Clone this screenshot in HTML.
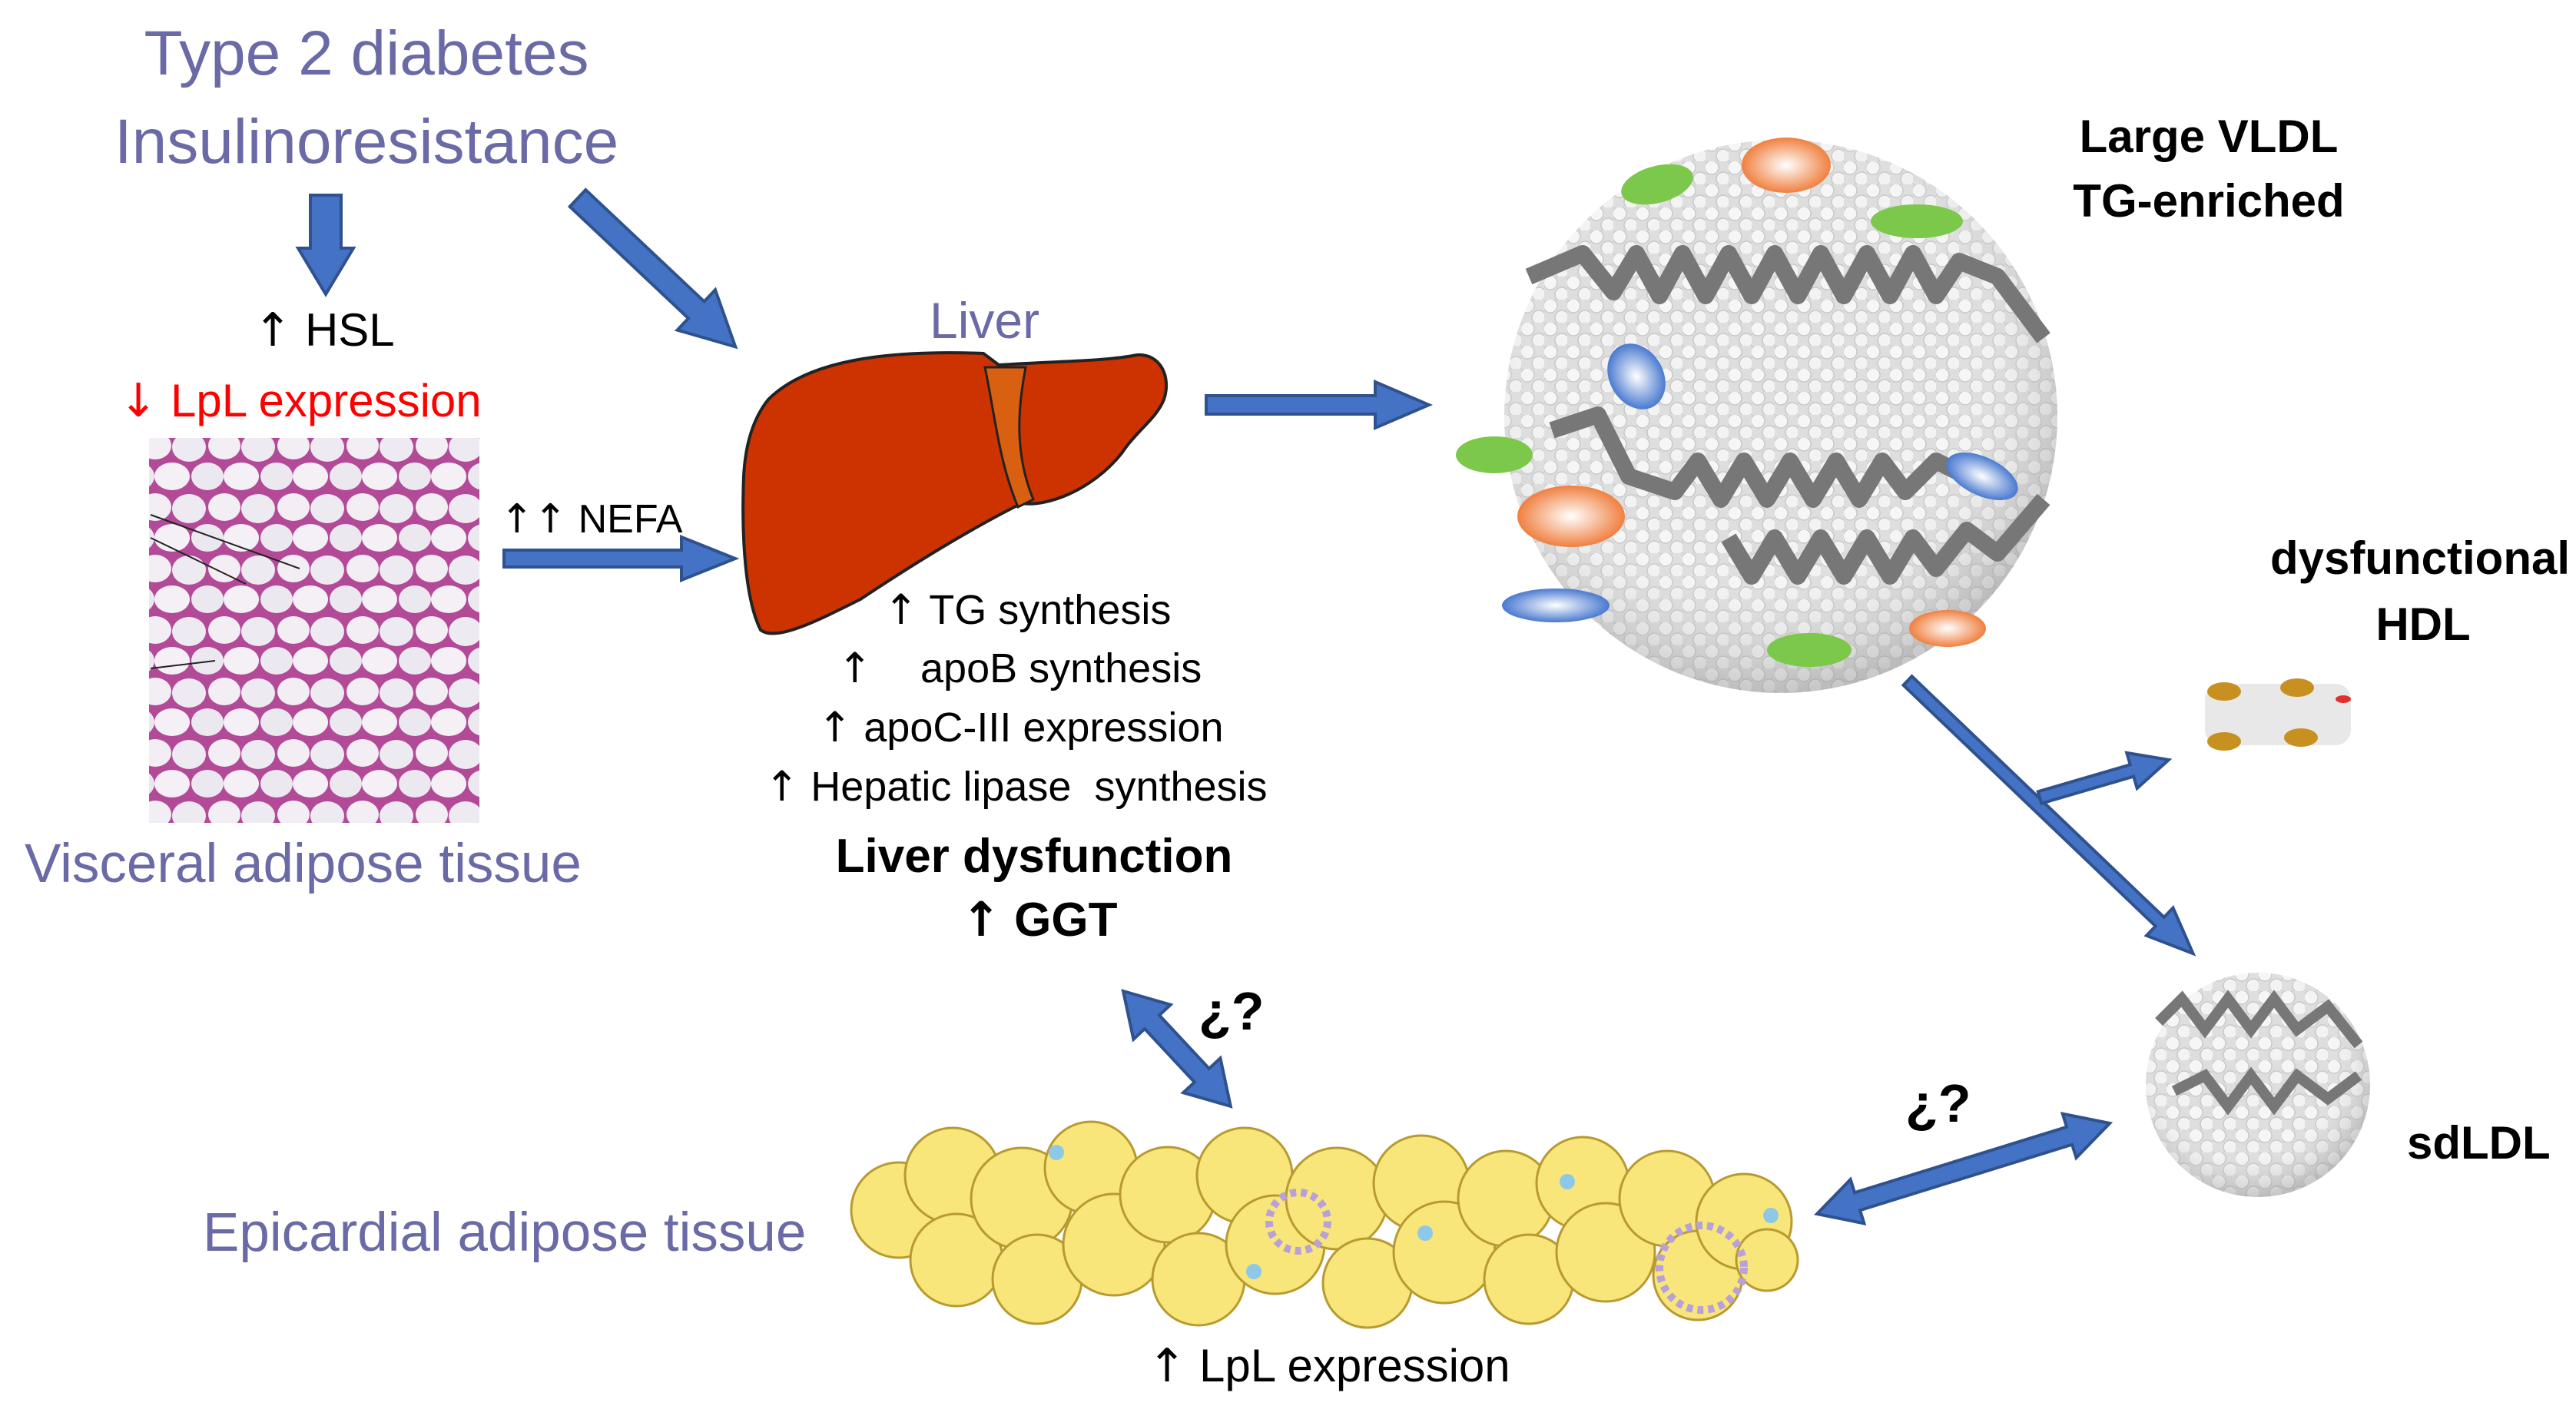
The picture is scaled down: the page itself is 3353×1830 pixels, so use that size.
<!DOCTYPE html>
<html><head><meta charset="utf-8"><style>
html,body{margin:0;padding:0;background:#fff;}
svg{display:block;}
text{font-family:"Liberation Sans",sans-serif;}
.ar{font-family:"DejaVu Sans",sans-serif;}
</style></head><body>
<svg width="3353" height="1830" viewBox="0 0 3353 1830" xmlns="http://www.w3.org/2000/svg">
<defs>
<pattern id="fat" width="90" height="80" patternUnits="userSpaceOnUse">
<rect width="90" height="80" fill="#b24a98"/>
<ellipse cx="22" cy="20" rx="21" ry="18" fill="#f2eef4"/>
<ellipse cx="66" cy="22" rx="22" ry="19" fill="#eeeaf2"/>
<ellipse cx="44" cy="60" rx="23" ry="18" fill="#f4f0f6"/>
<ellipse cx="0" cy="60" rx="21" ry="18" fill="#ece8f0"/>
<ellipse cx="90" cy="60" rx="21" ry="18" fill="#ece8f0"/>
</pattern>
<pattern id="dots" width="30" height="30" patternUnits="userSpaceOnUse">
<rect width="30" height="30" fill="#dedede"/>
<circle cx="8" cy="8" r="9" fill="#f6f6f6" stroke="#c8c8c8" stroke-width="1.5"/>
<circle cx="23" cy="23" r="9" fill="#f3f3f3" stroke="#c8c8c8" stroke-width="1.5"/>
</pattern>
<radialGradient id="shade" cx="45%" cy="40%" r="60%">
<stop offset="60%" stop-color="#fff" stop-opacity="0"/>
<stop offset="100%" stop-color="#888" stop-opacity="0.4"/>
</radialGradient>
<radialGradient id="org" cx="50%" cy="50%" r="50%"><stop offset="0" stop-color="#fff"/><stop offset="1" stop-color="#f08040"/></radialGradient>
<radialGradient id="blu" cx="50%" cy="50%" r="50%"><stop offset="0" stop-color="#fff"/><stop offset="1" stop-color="#4a7ad0"/></radialGradient>
</defs>

<text x="477" y="97" font-size="82" fill="#6a6aa6" text-anchor="middle">Type 2 diabetes</text>
<text x="477" y="212" font-size="82" fill="#6a6aa6" text-anchor="middle">Insulinoresistance</text>

<g fill="#4472c4" stroke="#2f528f" stroke-width="4">
<g transform="translate(424,254) rotate(90)"><polygon points="0,-20 69,-20 69,-36 129,0 69,36 69,20 0,20"/></g>
<g transform="translate(752,258) rotate(43.3)"><polygon points="0,-15 212,-15 212,-36 282,0 212,36 212,15 0,15"/></g>
<g transform="translate(656,727)"><polygon points="0,-11 231,-11 231,-28 301,0 231,28 231,11 0,11"/></g>
<g transform="translate(1570,527)"><polygon points="0,-12 220,-12 220,-30 290,0 220,30 220,12 0,12"/></g>
<g transform="translate(2483,886) rotate(43.7)"><polygon points="0,-8 454,-8 454,-25 514,0 454,25 454,8 0,8"/></g>
<g transform="translate(2655,1038) rotate(-16.3)"><polygon points="0,-8 125,-8 125,-24 175,0 125,24 125,8 0,8"/></g>
<g transform="translate(1462,1290) rotate(47)"><polygon points="0,0 55,-33 55,-13 150,-13 150,-33 205,0 150,33 150,13 55,13 55,33"/></g>
<g transform="translate(2365,1580) rotate(-17.2)"><polygon points="0,0 55,-30 55,-12 344,-12 344,-30 399,0 344,30 344,12 55,12 55,30"/></g>
</g>

<text x="330" y="450" font-size="60" fill="#000"><tspan class="ar">↑</tspan> HSL</text>
<text x="155" y="542" font-size="60" fill="#ff0000"><tspan class="ar">↓</tspan> LpL expression</text>
<rect x="194" y="570" width="430" height="501" fill="url(#fat)"/>
<g stroke="#222" stroke-width="2"><line x1="196" y1="670" x2="390" y2="740"/><line x1="196" y1="700" x2="320" y2="760"/><line x1="196" y1="870" x2="280" y2="860"/></g>
<text x="32" y="1148" font-size="71" fill="#6a6aa6">Visceral adipose tissue</text>
<text x="651" y="693" font-size="52" fill="#000"><tspan class="ar">↑↑</tspan> NEFA</text>

<text x="1210" y="440" font-size="66" fill="#6a6aa6">Liver</text>
<path d="M1000,520 C1050,470 1150,455 1280,460 L1300,475 C1380,470 1440,470 1480,462 C1510,460 1525,490 1515,520 C1505,545 1480,560 1460,590 C1420,640 1360,660 1330,655 C1260,690 1180,740 1120,780 C1060,810 1010,835 990,820 C970,780 965,700 968,620 C970,580 980,545 1000,520 Z" fill="#cc3300" stroke="#222" stroke-width="4"/>
<path d="M1282,478 L1335,478 C1325,530 1320,590 1345,650 L1325,660 C1300,600 1295,540 1282,478 Z" fill="#d86010" stroke="#222" stroke-width="3"/>

<g font-size="54" fill="#000">
<text x="1150" y="812"><tspan class="ar">↑</tspan> TG synthesis</text>
<text x="1090" y="888" class="ar">↑</text><text x="1198" y="888">apoB synthesis</text>
<text x="1064" y="965"><tspan class="ar">↑</tspan> apoC-III expression</text>
<text x="995" y="1042" xml:space="preserve"><tspan class="ar">↑</tspan> Hepatic lipase  synthesis</text>
<text x="1346" y="1135" font-size="62" font-weight="bold" text-anchor="middle">Liver dysfunction</text>
<text x="1251" y="1218" font-size="62" font-weight="bold"><tspan class="ar">↑</tspan> GGT</text>
<text x="1560" y="1340" font-size="70" font-weight="bold">¿?</text>
<text x="2480" y="1460" font-size="70" font-weight="bold">¿?</text>
</g>

<circle cx="2318" cy="542" r="360" fill="url(#dots)"/>
<circle cx="2318" cy="542" r="360" fill="url(#shade)"/>
<g fill="none" stroke="#777" stroke-width="22" stroke-linejoin="round">
<path d="M1990,360 L2060,330 L2100,380 L2130,330 L2160,385 L2190,330 L2220,385 L2250,330 L2280,385 L2310,330 L2340,385 L2370,330 L2400,385 L2430,330 L2460,385 L2490,330 L2520,385 L2550,340 L2600,360 L2660,440"/>
<path d="M2020,560 L2080,540 L2120,620 L2180,640 L2210,600 L2240,650 L2270,600 L2300,650 L2330,600 L2360,650 L2390,600 L2420,650 L2450,600 L2480,640 L2520,600 L2560,620"/>
<path d="M2250,700 L2280,750 L2310,700 L2340,750 L2370,700 L2400,750 L2430,700 L2460,750 L2490,700 L2520,740 L2560,690 L2600,720 L2660,650"/>
</g>
<ellipse cx="2157" cy="240" rx="48" ry="24" fill="#7cc84a" transform="rotate(-15 2157 240)"/>
<ellipse cx="2325" cy="215" rx="58" ry="36" fill="url(#org)"/>
<ellipse cx="2495" cy="288" rx="60" ry="22" fill="#7cc84a"/>
<ellipse cx="2130" cy="490" rx="35" ry="45" fill="url(#blu)" transform="rotate(-30 2130 490)"/>
<ellipse cx="1945" cy="592" rx="50" ry="24" fill="#7cc84a"/>
<ellipse cx="2045" cy="672" rx="70" ry="40" fill="url(#org)"/>
<ellipse cx="2580" cy="620" rx="50" ry="25" fill="url(#blu)" transform="rotate(25 2580 620)"/>
<ellipse cx="2025" cy="788" rx="70" ry="22" fill="url(#blu)"/>
<ellipse cx="2355" cy="846" rx="55" ry="22" fill="#7cc84a"/>
<ellipse cx="2535" cy="818" rx="50" ry="24" fill="url(#org)"/>
<text x="2875" y="198" font-size="60" font-weight="bold" text-anchor="middle">Large VLDL</text>
<text x="2875" y="282" font-size="60" font-weight="bold" text-anchor="middle">TG-enriched</text>

<text x="3150" y="747" font-size="60" font-weight="bold" text-anchor="middle">dysfunctional</text>
<text x="3154" y="833" font-size="60" font-weight="bold" text-anchor="middle">HDL</text>
<rect x="2870" y="890" width="190" height="80" fill="#e8e8e8" rx="20"/>
<g fill="#c89020"><ellipse cx="2895" cy="900" rx="22" ry="12"/><ellipse cx="2990" cy="895" rx="22" ry="12"/><ellipse cx="2895" cy="965" rx="22" ry="12"/><ellipse cx="2995" cy="960" rx="22" ry="12"/></g>
<ellipse cx="3050" cy="910" rx="10" ry="5" fill="#e03030"/>

<circle cx="2939" cy="1412" r="146" fill="url(#dots)"/>
<circle cx="2939" cy="1412" r="146" fill="url(#shade)"/>
<g fill="none" stroke="#777" stroke-width="14"><path d="M2810,1330 L2840,1300 L2870,1340 L2900,1300 L2930,1340 L2960,1300 L2990,1340 L3030,1310 L3070,1360"/><path d="M2830,1420 L2870,1400 L2900,1440 L2930,1400 L2960,1440 L2990,1400 L3030,1430 L3070,1400"/></g>
<text x="3133" y="1508" font-size="60" font-weight="bold">sdLDL</text>

<text x="264" y="1628" font-size="71" fill="#6a6aa6">Epicardial adipose tissue</text>
<g fill="#f8e67a" stroke="#b89a30" stroke-width="3">
<circle cx="1170" cy="1575" r="62"/><circle cx="1240" cy="1530" r="62"/><circle cx="1245" cy="1640" r="60"/>
<circle cx="1330" cy="1560" r="66"/><circle cx="1350" cy="1665" r="58"/><circle cx="1420" cy="1520" r="60"/>
<circle cx="1450" cy="1620" r="66"/><circle cx="1520" cy="1555" r="62"/><circle cx="1560" cy="1665" r="60"/>
<circle cx="1620" cy="1530" r="62"/><circle cx="1660" cy="1620" r="64"/><circle cx="1740" cy="1560" r="66"/>
<circle cx="1780" cy="1670" r="58"/><circle cx="1850" cy="1540" r="62"/><circle cx="1880" cy="1630" r="66"/>
<circle cx="1960" cy="1560" r="62"/><circle cx="1990" cy="1665" r="58"/><circle cx="2060" cy="1540" r="60"/>
<circle cx="2090" cy="1630" r="64"/><circle cx="2170" cy="1560" r="62"/><circle cx="2210" cy="1660" r="58"/>
<circle cx="2270" cy="1590" r="62"/><circle cx="2300" cy="1640" r="40"/>
</g>
<g fill="none" stroke="#b8a0d8" stroke-width="10" stroke-dasharray="8 6"><circle cx="1690" cy="1590" r="38"/><circle cx="2215" cy="1650" r="55"/></g>
<g fill="#8ec8e8"><circle cx="1375" cy="1500" r="10"/><circle cx="1855" cy="1605" r="10"/><circle cx="2040" cy="1538" r="10"/><circle cx="1632" cy="1655" r="10"/><circle cx="2305" cy="1582" r="10"/></g>
<text x="1494" y="1798" font-size="60" fill="#000"><tspan class="ar">↑</tspan> LpL expression</text>
</svg>
</body></html>
